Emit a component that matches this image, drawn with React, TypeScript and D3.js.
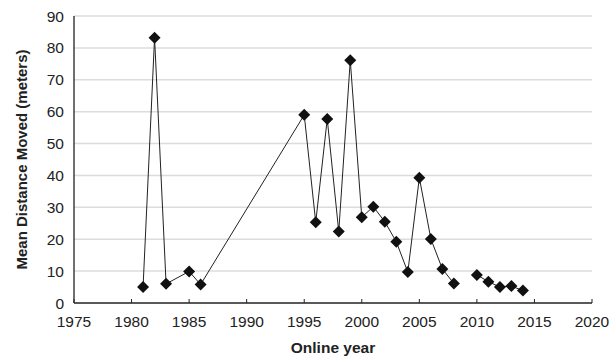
import React from 'react';
import * as d3 from 'd3';

// canvas
const width = 611;
const height = 359;

// plot area
const left = 74;
const right = 592;
const top = 16;
const bottom = 303;

// data
const yearsA = [1981, 1982, 1983, 1985, 1986, 1995, 1996, 1997, 1998, 1999, 2000, 2001, 2002, 2003, 2004, 2005, 2006, 2007, 2008];
const valuesA = [5, 83.2, 6, 9.9, 5.8, 59, 25.3, 57.7, 22.4, 76.1, 26.9, 30.2, 25.5, 19.2, 9.7, 39.3, 20.1, 10.7, 6.1];
const yearsB = [2010, 2011, 2012, 2013, 2014];
const valuesB = [8.8, 6.7, 5, 5.3, 3.9];

const xTicks = [1975, 1980, 1985, 1990, 1995, 2000, 2005, 2010, 2015, 2020];
const yTicks = [0, 10, 20, 30, 40, 50, 60, 70, 80, 90];

const font = 'Liberation Sans, Arial, sans-serif';
const textColor = '#222';

const x = d3.scaleLinear().domain([1975, 2020]).range([left, right]);
const y = d3.scaleLinear().domain([0, 90]).range([bottom, top]);

const lineGen = d3
  .line<[number, number]>()
  .x((d) => x(d[0]))
  .y((d) => y(d[1]));

const seriesA: [number, number][] = yearsA.map((yr, i) => [yr, valuesA[i]]);
const seriesB: [number, number][] = yearsB.map((yr, i) => [yr, valuesB[i]]);
const allPoints = [...seriesA, ...seriesB];

// square marker turned 45 degrees = even diamond
const marker = d3.symbol().type(d3.symbolSquare).size(72);

const App = () => (
  <svg width={width} height={height} style={{ position: 'absolute', left: 0, top: 0, background: '#fff' }}>
    {/* gridlines */}
    {yTicks.slice(1).map((t) => (
      <line key={t} x1={left} x2={right} y1={y(t)} y2={y(t)} stroke="#dcdcdc" strokeWidth={1.5} />
    ))}
    {/* axes */}
    <line x1={left} x2={left} y1={top} y2={bottom} stroke="#222" strokeWidth={1.3} />
    <line x1={left} x2={right} y1={bottom} y2={bottom} stroke="#222" strokeWidth={1.3} />
    {xTicks.map((t) => (
      <g key={t}>
        <line x1={x(t)} x2={x(t)} y1={bottom} y2={bottom - 4} stroke="#222" strokeWidth={1} />
        <text x={x(t)} y={327} textAnchor="middle" fontFamily={font} fontSize={15.5} fill={textColor}>
          {t}
        </text>
      </g>
    ))}
    {yTicks.map((t) => (
      <text key={t} x={64} y={y(t) + 5.5} textAnchor="end" fontFamily={font} fontSize={15.5} fill={textColor}>
        {t}
      </text>
    ))}
    {/* lines */}
    <path d={lineGen(seriesA) || ''} fill="none" stroke="#222" strokeWidth={1} />
    <path d={lineGen(seriesB) || ''} fill="none" stroke="#222" strokeWidth={1} />
    {/* markers */}
    {allPoints.map((p) => (
      <path key={p[0]} d={marker() || ''} transform={`translate(${x(p[0])},${y(p[1])}) rotate(45)`} fill="#111" />
    ))}
    {/* axis titles */}
    <text x={333} y={353} textAnchor="middle" fontFamily={font} fontSize={15.5} fontWeight="bold" fill={textColor}>
      Online year
    </text>
    <text
      transform={`translate(27,${(top + bottom) / 2}) rotate(-90)`}
      textAnchor="middle"
      fontFamily={font}
      fontSize={15}
      fontWeight="bold"
      fill={textColor}
    >
      Mean Distance Moved (meters)
    </text>
  </svg>
);

export default App;
